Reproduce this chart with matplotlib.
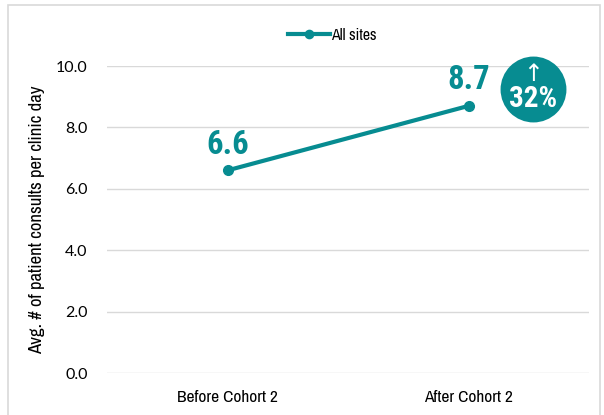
import matplotlib
matplotlib.use("Agg")
import matplotlib.pyplot as plt
from matplotlib.patches import Rectangle

# data
categories = ["Before Cohort 2", "After Cohort 2"]
all_sites = [6.6, 8.7]
series_label = "All sites"
change_label = "32%"
y_ticks = [0.0, 2.0, 4.0, 6.0, 8.0, 10.0]

TEAL = "#078C91"
NARROW = ["Archivo Narrow", "Roboto Condensed", "DejaVu Sans"]
BOLDNARROW = ["Roboto Condensed", "DejaVu Sans"]
TICKFONT = ["Lato", "DejaVu Sans"]

fig = plt.figure(figsize=(6.04, 4.15), dpi=100)
ax = fig.add_axes([107 / 604, 42 / 415, 482 / 604, 307 / 415])

# outer light border of the chart box
fig.patches.append(Rectangle((8 / 604, -0.1), 592 / 604, 1.1 - 5 / 415,
                             transform=fig.transFigure, fill=False,
                             edgecolor="#d9d9d9", linewidth=1.2))

x = list(range(len(categories)))
ax.plot(x, all_sites, color=TEAL, linewidth=3, marker="o", markersize=7,
        label=series_label, zorder=3, clip_on=False)

# value labels
for xi, v in zip(x, all_sites):
    ax.annotate(f"{v:.1f}", (xi, v), xytext=(0, 7), textcoords="offset points",
                ha="center", va="bottom", fontsize=23.5, fontweight="bold",
                color=TEAL, family=BOLDNARROW)

# change badge
bx, by = 1.268, 9.25
ax.scatter([bx], [by], s=2250, color=TEAL, zorder=4, clip_on=False,
           linewidths=0)
ax.text(bx, by + 0.5, "\u2191", ha="center", va="center", color="white",
        fontsize=17, zorder=5, family=["DejaVu Sans"])
ax.text(bx, by - 0.32, change_label, ha="center", va="center", color="white",
        fontsize=21, fontweight="bold", zorder=5, family=BOLDNARROW)

ax.set_xlim(-0.5, 1.5)
ax.set_ylim(0, 10)
ax.set_yticks(y_ticks)
ax.set_yticklabels([f"{t:.1f}" for t in y_ticks], fontsize=11.5,
                   family=TICKFONT)
ax.set_xticks(x)
ax.set_xticklabels(categories, fontsize=12.5, family=NARROW)
ax.tick_params(axis="x", length=0, pad=12)
ax.tick_params(axis="y", length=0, pad=14)

ax.grid(axis="y", color="#d9d9d9", linewidth=1)
ax.set_axisbelow(True)
for s in ax.spines.values():
    s.set_visible(False)

ax.set_ylabel("Avg. # of patient consults per clinic day", fontsize=13.5,
              family=NARROW)
ax.yaxis.set_label_coords(-0.128, 0.5)

leg = ax.legend(loc="center", bbox_to_anchor=(0.468, 1.1), frameon=False,
                prop={"family": NARROW, "size": 11.5}, handlelength=2.6,
                handletextpad=0.1, markerscale=0.85)

fig.savefig("out.png", dpi=100)
